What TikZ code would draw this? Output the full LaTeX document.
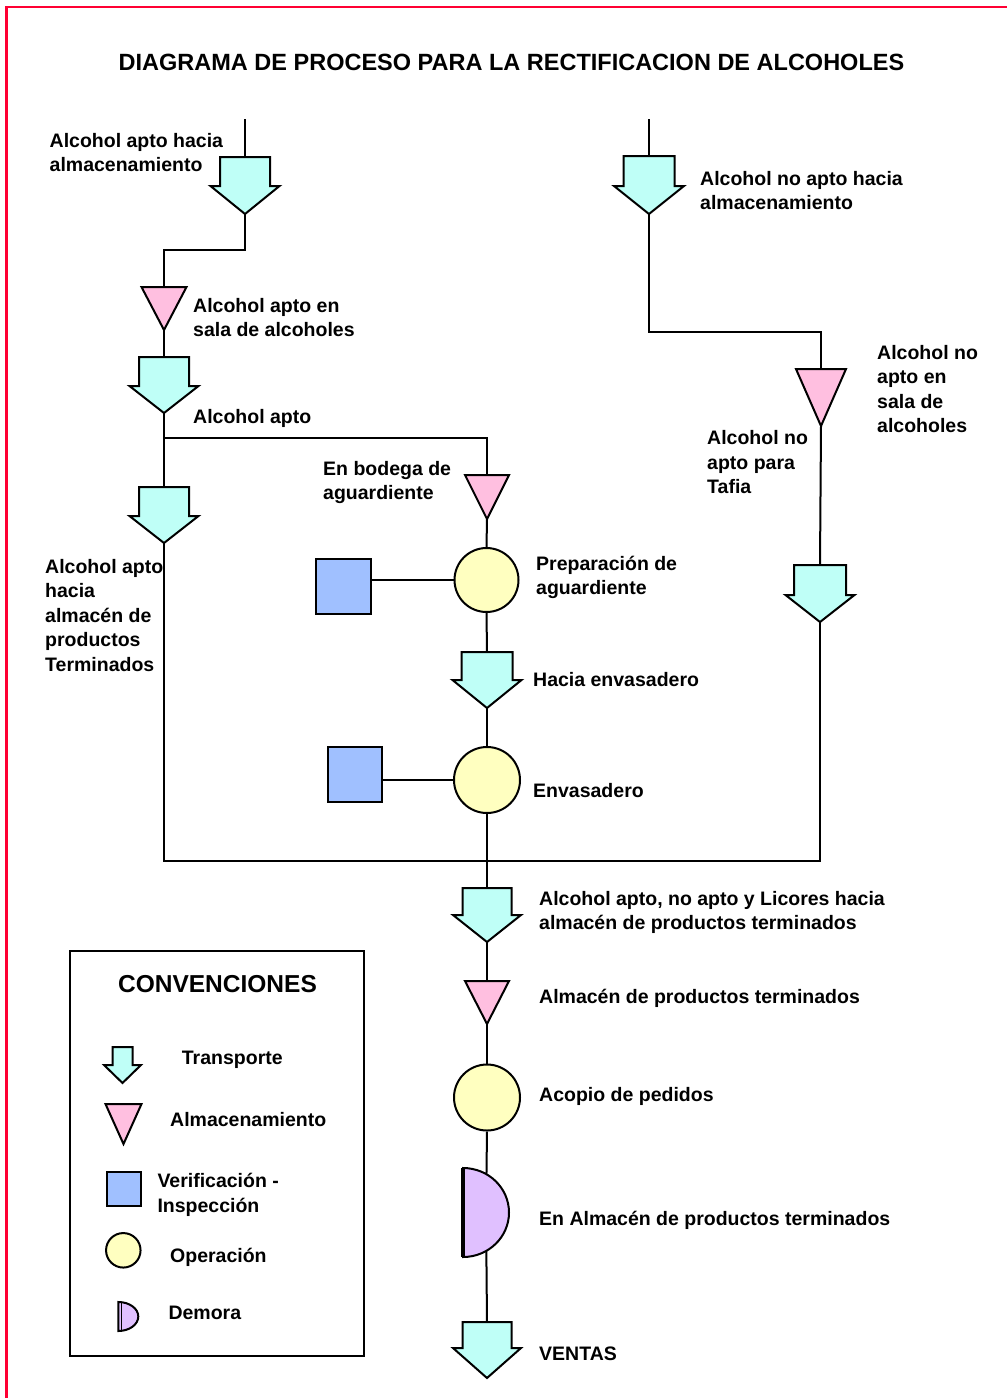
\documentclass[tikz,border=0pt]{standalone}
\usepackage{fontspec}
\setmainfont{Liberation Sans}
\usetikzlibrary{calc,backgrounds}
\definecolor{cyanf}{RGB}{191,255,247}
\definecolor{pinkf}{RGB}{255,191,224}
\definecolor{bluef}{RGB}{160,192,255}
\definecolor{yelf}{RGB}{255,255,192}
\definecolor{lavf}{RGB}{224,192,255}
\definecolor{bordred}{RGB}{255,0,51}
\newcommand\lstrut{\rule{0pt}{19pt}}
\tikzset{
  sym/.style={draw=black, line width=2pt, line join=miter},
  conn/.style={draw=black, line width=2pt},
  symbox/.style={draw=none, inner sep=0pt, outer sep=0pt, rectangle},
  opcirc/.style={circle, sym, fill=yelf, inner sep=0pt, minimum size=#1},
  insp/.style={rectangle, sym, fill=bluef, inner sep=0pt},
  lbl/.style={anchor=north west, inner sep=0pt, align=left, font=\fontsize{19.5}{24.5}\selectfont\bfseries},
}
% transport arrow: name, cx, top, shaft half width, wing half width, shaft length, head length
\newcommand\transp[7]{%
  \node[symbox, minimum width={2*#5}, minimum height={#6+#7}] (#1) at ({#2},{#3+(#6+#7)/2}) {};
  \draw[sym, fill=cyanf] ({#2-#4},{#3}) -- ({#2+#4},{#3}) -- ({#2+#4},{#3+#6}) -- ({#2+#5},{#3+#6})
     -- ({#2},{#3+#6+#7}) -- ({#2-#5},{#3+#6}) -- ({#2-#4},{#3+#6}) -- cycle;}
% storage triangle: name, cx, top, half width, height
\newcommand\stor[5]{%
  \node[symbox, minimum width={2*#4}, minimum height={#5}] (#1) at ({#2},{#3+#5/2}) {};
  \draw[sym, fill=pinkf] ({#2-#4},{#3}) -- ({#2+#4},{#3}) -- ({#2},{#3+#5}) -- cycle;}
% delay: name, left x, top, x radius, y radius
\newcommand\demora[5]{%
  \node[symbox, minimum width={#4}, minimum height={2*#5}] (#1) at ({#2+#4/2},{#3+#5}) {};
  \draw[sym, fill=lavf] ({#2},{#3}) arc[start angle=90, end angle=-90, x radius=#4pt, y radius=#5pt] -- cycle;}
\begin{document}
\begin{tikzpicture}[x=1pt,y=-1pt]
\useasboundingbox (0,0) rectangle (1007,1398);
\begin{scope}[on background layer]
  \fill[white] (0,0) rectangle (1007,1398);
\end{scope}
\draw[bordred, line width=2.5pt] (6.5,1398) -- (6.5,7) -- (1007,7);

\node[anchor=base, inner sep=0pt, font=\fontsize{23.5}{28}\selectfont\bfseries] (title) at (511.5,70)
  {DIAGRAMA DE PROCESO PARA LA RECTIFICACION DE ALCOHOLES};

% symbols
\transp{A1}{245}{157}{25}{34.5}{29}{28}
\stor{T1}{164}{287}{22.5}{43}
\transp{A2}{164}{357}{25}{34.5}{29}{27}
\transp{A3}{164}{487}{25}{34.5}{29}{27}
\stor{T2}{487}{475}{22}{44}
\node[opcirc=64] (C1) at (486.5,580) {};
\node[insp, minimum width=54.7, minimum height=54.7] (S1) at (343.3,586.3) {};
\transp{A4}{487}{652}{25.5}{34.5}{28}{28}
\node[opcirc=66] (C2) at (487,780) {};
\node[insp, minimum width=54, minimum height=55.6] (S2) at (354.7,774.5) {};
\transp{A5}{649}{156}{25.5}{35}{30}{28}
\stor{T3}{821}{369}{25}{57}
\transp{A6}{820}{565}{26}{34.5}{30}{27}
\transp{A7}{487}{888}{24.5}{34}{27}{27}
\stor{T4}{487}{981}{22}{43}
\node[opcirc=66] (C3) at (487,1097.5) {};
\demora{D1}{463}{1168}{46}{44.5}
\draw[line width=3.5pt] (D1.north west) -- (D1.south west);
\transp{A8}{487}{1322}{24.5}{34}{26}{30}

\coordinate (s1) at (245,119);
\coordinate (s2) at (649,119);
\coordinate (j1) at (164,438);
\coordinate (j2) at (487,861);

% connectors
\begin{scope}[on background layer]
  \draw[conn] (s1) -- (A1.north);
  \draw[conn] (A1.south) -- ++(0,36) -| (T1.north);
  \draw[conn] (T1.south) -- (A2.north);
  \draw[conn] (A2.south) -- (A3.north);
  \draw[conn] (j1) -| (T2.north);
  \draw[conn] (T2.south) -- (C1.north);
  \draw[conn] (C1.west) -- (C1.west -| S1.east);
  \draw[conn] (C1.south) -- (A4.north);
  \draw[conn] (A4.south) -- (C2.north);
  \draw[conn] (C2.west) -- (C2.west -| S2.east);
  \draw[conn] (C2.south) -- (j2);
  \draw[conn] (A3.south) |- (j2) -| (A6.south);
  \draw[conn] (s2) -- (A5.north);
  \draw[conn] (A5.south) -- ++(0,118) -| (T3.north);
  \draw[conn] (T3.south) -- (A6.north);
  \draw[conn] (j2) -- (A7.north);
  \draw[conn] (A7.south) -- (T4.north);
  \draw[conn] (T4.south) -- (C3.north);
  \draw[conn] (C3.south) -- (D1.center);
  \draw[conn] (D1.center) -- (A8.north);
\end{scope}

% labels
\node[lbl] (n1) at (49.5,128) {\lstrut Alcohol apto hacia\\almacenamiento};
\node[lbl] (n2) at (193,293) {\lstrut Alcohol apto en\\sala de alcoholes};
\node[lbl] (n3) at (193,404.5) {\lstrut Alcohol apto};
\node[lbl] (n4) at (323,456) {\lstrut En bodega de\\aguardiente};
\node[lbl] (n5) at (45,554) {\lstrut Alcohol apto\\hacia\\almacén de\\productos\\Terminados};
\node[lbl] (n6) at (536,551) {\lstrut Preparación de\\aguardiente};
\node[lbl] (n7) at (533,667) {\lstrut Hacia envasadero};
\node[lbl] (n8) at (533,778) {\lstrut Envasadero};
\node[lbl] (n9) at (700,166) {\lstrut Alcohol no apto hacia\\almacenamiento};
\node[lbl] (n10) at (877,340) {\lstrut Alcohol no\\apto en\\sala de\\alcoholes};
\node[lbl] (n11) at (707,425.5) {\lstrut Alcohol no\\apto para\\Tafia};
\node[lbl] (n12) at (539,886) {\lstrut Alcohol apto, no apto y Licores hacia\\almacén de productos terminados};
\node[lbl] (n13) at (539,984.5) {\lstrut Almacén de productos terminados};
\node[lbl] (n14) at (539,1082.7) {\lstrut Acopio de pedidos};
\node[lbl] (n15) at (539,1206.7) {\lstrut En Almacén de productos terminados};
\node[lbl] (n16) at (539,1341) {\lstrut VENTAS};

% legend
\node[draw, line width=2pt, inner sep=0pt, minimum width=294, minimum height=405, anchor=north west] (leg) at (69,950) {};
\node[anchor=base, inner sep=0pt, font=\fontsize{24.5}{29}\selectfont\bfseries] (legt) at (217.5,992.7) {CONVENCIONES};
\transp{L1}{122.5}{1047}{10}{18.5}{18}{18}
\stor{L2}{123.5}{1104}{18}{40}
\node[insp, minimum width=34, minimum height=34] (L3) at (123.7,1188.7) {};
\node[opcirc=34.5] (L4) at (123.3,1250.3) {};
\demora{L5}{118.3}{1302}{20}{14.5}
\draw[line width=1.3pt] (121.7,1303) -- (121.7,1330);
\node[lbl] (l1) at (181.7,1045) {\lstrut Transporte};
\node[lbl] (l2) at (170,1107.7) {\lstrut Almacenamiento};
\node[lbl] (l3) at (157.3,1168.3) {\lstrut Verificación -\\Inspección};
\node[lbl] (l4) at (170,1243.7) {\lstrut Operación};
\node[lbl] (l5) at (168.3,1300) {\lstrut Demora};
\end{tikzpicture}
\end{document}
